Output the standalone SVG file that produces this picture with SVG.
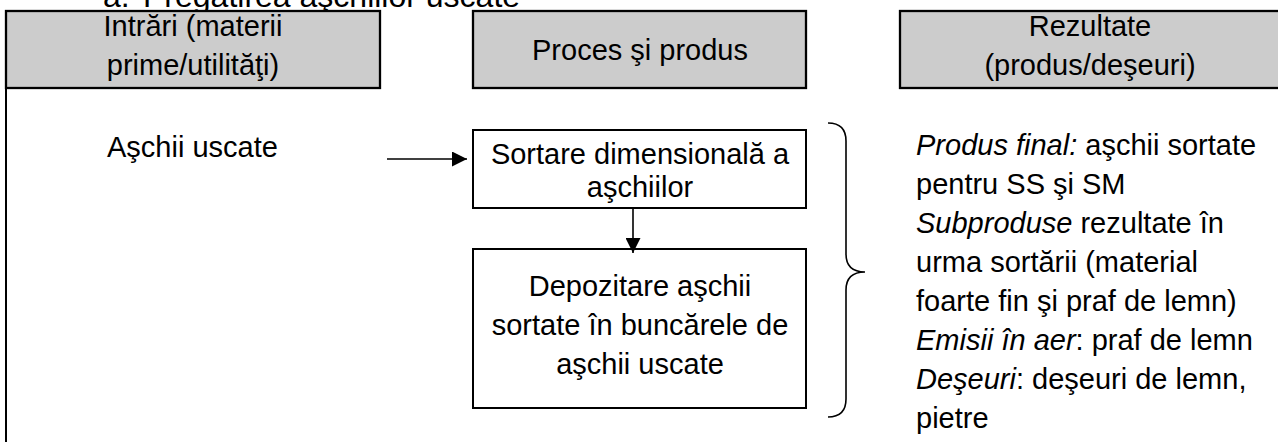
<svg xmlns="http://www.w3.org/2000/svg" width="1278" height="442" viewBox="0 0 1278 442">
<style>
text{font-family:"Liberation Sans",Arial,sans-serif;font-size:29px;fill:#000}
.c{text-anchor:middle}
.t{font-size:32px}
.hdr{fill:#cccccc;stroke:#000;stroke-width:2.3}
.box{fill:#fff;stroke:#000;stroke-width:2}
.ln{stroke:#000;stroke-width:1.6;fill:none}
.i{font-style:italic}
</style>
<defs>
<marker id="ah" viewBox="0 0 10 10" refX="10" refY="5" markerWidth="15" markerHeight="15" markerUnits="userSpaceOnUse" orient="auto">
<path d="M0,0 L10,5 L0,10 Z" fill="#000"/>
</marker>
</defs>
<rect width="1278" height="442" fill="#fff"/>
<g id="title"><text class="t" x="103" y="7">a.</text><text class="t" x="143" y="7">Pregătirea aşchiilor uscate</text></g>
<g id="frame"><line x1="6" y1="88" x2="6" y2="442" stroke="#000" stroke-width="2"/></g>
<g id="hdr-intrari"><rect class="hdr" x="6" y="11" width="374" height="77"/><text class="c" x="193" y="36">Intrări (materii</text><text class="c" x="193" y="75">prime/utilităţi)</text></g>
<g id="hdr-proces"><rect class="hdr" x="473" y="11" width="333" height="77"/><text class="c" x="640" y="60">Proces şi produs</text></g>
<g id="hdr-rezultate"><rect class="hdr" x="900" y="11" width="390" height="77"/><text class="c" x="1090" y="36">Rezultate</text><text class="c" x="1090" y="75">(produs/deşeuri)</text></g>
<g id="input"><text x="107" y="157">Aşchii uscate</text></g>
<g id="sortare"><rect class="box" x="473" y="130" width="333" height="78"/><text class="c" x="640" y="164">Sortare dimensională a</text><text class="c" x="640" y="197">aşchiilor</text></g>
<g id="depozitare"><rect class="box" x="473" y="249" width="333" height="159"/><text class="c" x="640" y="296">Depozitare aşchii</text><text class="c" x="640" y="335">sortate în buncărele de</text><text class="c" x="640" y="374">aşchii uscate</text></g>
<g id="rezultate">
<text x="916" y="155"><tspan class="i">Produs final:</tspan> aşchii sortate</text>
<text x="916" y="194">pentru SS şi SM</text>
<text x="916" y="233"><tspan class="i">Subproduse</tspan> rezultate în</text>
<text x="916" y="272">urma sortării (material</text>
<text x="916" y="311">foarte fin şi praf de lemn)</text>
<text x="916" y="350"><tspan class="i">Emisii în aer</tspan>: praf de lemn</text>
<text x="916" y="389"><tspan class="i">Deşeuri</tspan>: deşeuri de lemn,</text>
<text x="916" y="428">pietre</text>
</g>
<g id="connectors">
<line class="ln" x1="387" y1="159" x2="467" y2="159" marker-end="url(#ah)"/>
<line class="ln" x1="633" y1="208" x2="633" y2="253" marker-end="url(#ah)"/>
<path class="ln" stroke-width="2" d="M828,123 Q846,123 846,141 L846,254 Q846,272 865,272 Q846,272 846,290 L846,399 Q846,417 828,417"/>
</g>
</svg>
